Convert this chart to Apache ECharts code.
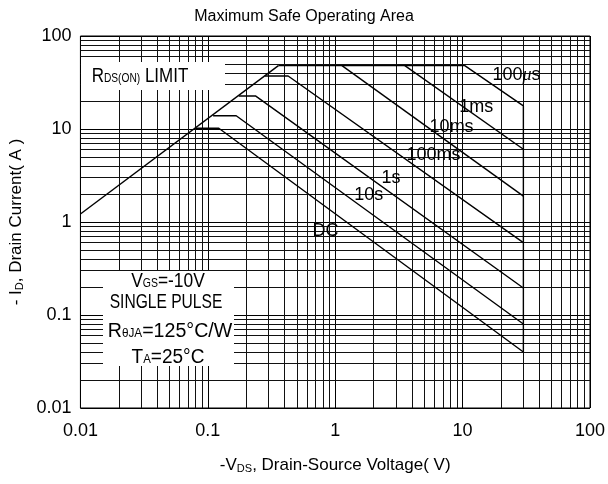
<!DOCTYPE html>
<html>
<head>
<meta charset="utf-8">
<script src="https://cdn.jsdelivr.net/npm/echarts@6/dist/echarts.min.js"></script>
<style>html,body{margin:0;background:#fff}#chart{width:608px;height:484px}</style>
</head>
<body>
<div id="chart"></div>
<script>
var FONT = '"Liberation Sans", Arial, sans-serif';

// axes
var decades = [0.01, 0.1, 1, 10];
var minorSteps = [2, 3, 4, 5, 6, 7, 8, 9];

// SOA curves, [ -Vds (V), -Id (A) ]
var rdsLimit = [[0.01, 1.22], [0.358, 48]];
var us100 = [[0.358, 48], [10.4, 48], [30, 17.7], [30, 0.04]];
var ms1 = [[3.52, 48], [30, 6.05]];
var ms10 = [[1.13, 48], [30, 1.9]];
var ms100 = [[0.28, 37.1], [0.427, 37.1], [30, 0.6]];
var s1 = [[0.175, 22.6], [0.238, 22.6], [30, 0.195]];
var s10 = [[0.11, 13.9], [0.167, 13.9], [30, 0.08]];
var dc = [[0.08, 10.2], [0.122, 10.2], [30, 0.04]];

var curveNames = ['100{mu|\u03bc}s', '1ms', '10ms', '100ms', '1s', '10s', 'DC'];
var curveNamePos = [[26.5, 38], [12.8, 17.2], [8.2, 10.5], [5.9, 5.25], [2.74, 2.97], [1.83, 1.95], [0.84, 0.8]];

var chart = echarts.init(document.getElementById('chart'));

var minorVals = [];
decades.forEach(function (d) {
  minorSteps.forEach(function (m) { minorVals.push(+(d * m).toPrecision(3)); });
});
var gridLines = [];
minorVals.forEach(function (v) {
  gridLines.push({ xAxis: v });
  gridLines.push({ yAxis: v });
});

function curve(data, extra) {
  var s = {
    type: 'line',
    data: data,
    showSymbol: false,
    symbol: 'none',
    silent: true,
    lineStyle: { color: '#000', width: 1.4 },
    z: 5
  };
  return Object.assign(s, extra || {});
}

var sub = { fontSize: 11, fontFamily: FONT, color: '#000', padding: [7, 0, 0, 0] };
var subG = { fontSize: 12, fontFamily: FONT, fill: '#000', padding: [6, 0, 0, 0] };

// boxed note text, squeezed horizontally like the condensed original
function note(text, x, y, sx) {
  return {
    type: 'text', x: x, y: y, z: 51, scaleX: sx,
    style: { text: text, fill: '#000', font: '20px ' + FONT, align: 'center', verticalAlign: 'middle', rich: { s: subG } }
  };
}

chart.setOption({
  animation: false,
  title: {
    text: 'Maximum Safe Operating Area',
    left: 'center',
    top: 4,
    textStyle: { fontSize: 16, fontWeight: 'normal', color: '#000', fontFamily: FONT }
  },
  grid: { left: 76, right: 12, top: 36, bottom: 76, show: true, borderColor: '#000', borderWidth: 1 },
  xAxis: {
    type: 'log',
    logBase: 10,
    min: 0.01,
    max: 100,
    axisLine: { show: false },
    axisTick: { show: false },
    splitLine: { show: true, lineStyle: { color: '#000', width: 1 } },
    axisLabel: {
      color: '#000', fontSize: 18, fontFamily: FONT, margin: 14,
      formatter: function (v) { return String(+v.toPrecision(3)); }
    },
    name: '-V{s|DS}, Drain-Source Voltage( V)',
    nameLocation: 'middle',
    nameGap: 48,
    nameTextStyle: { color: '#000', fontSize: 17, fontFamily: FONT, rich: { s: sub } }
  },
  yAxis: {
    type: 'log',
    logBase: 10,
    min: 0.01,
    max: 100,
    axisLine: { show: false },
    axisTick: { show: false },
    splitLine: { show: true, lineStyle: { color: '#000', width: 1 } },
    axisLabel: {
      color: '#000', fontSize: 18, fontFamily: FONT, margin: 9,
      formatter: function (v) { return String(+v.toPrecision(3)); }
    },
    name: '- I{s|D}, Drain Current( A )',
    nameLocation: 'middle',
    nameGap: 50,
    nameTextStyle: { color: '#000', fontSize: 17, fontFamily: FONT, rich: { s: sub } }
  },
  graphic: [
    { type: 'rect', shape: { x: 81, y: 62, width: 144, height: 28 }, style: { fill: '#fff' }, z: 50 },
    note('R{s|DS(ON)} LIMIT', 140, 76, 0.85),
    { type: 'rect', shape: { x: 103, y: 271, width: 131, height: 95 }, style: { fill: '#fff' }, z: 50 },
    note('V{s|GS}=-10V', 168, 281, 0.87),
    note('SINGLE PULSE', 166, 302, 0.78),
    note('R{s|\u03b8JA}=125\u00b0C/W', 170, 331, 0.98),
    note('T{s|A}=25\u00b0C', 168, 357, 0.95)
  ],
  series: [
    curve(rdsLimit, {
      markLine: {
        silent: true,
        symbol: 'none',
        label: { show: false },
        lineStyle: { color: '#111', width: 1, type: 'solid' },
        data: gridLines,
        z: 1
      }
    }),
    curve(us100),
    curve(ms1),
    curve(ms10),
    curve(ms100),
    curve(s1),
    curve(s10),
    curve(dc),
    {
      type: 'scatter',
      symbolSize: 0,
      silent: true,
      z: 6,
      itemStyle: { opacity: 1, color: '#000' },
      data: curveNames.map(function (n, i) { return { name: n, value: curveNamePos[i] }; }),
      label: {
        show: true,
        position: 'inside',
        formatter: '{b}',
        color: '#000',
        opacity: 1,
        fontSize: 18,
        fontFamily: FONT,
        rich: { mu: { fontSize: 18, fontStyle: 'italic', fontFamily: 'serif', color: '#000' } }
      }
    }
  ]
});
</script>
</body>
</html>
